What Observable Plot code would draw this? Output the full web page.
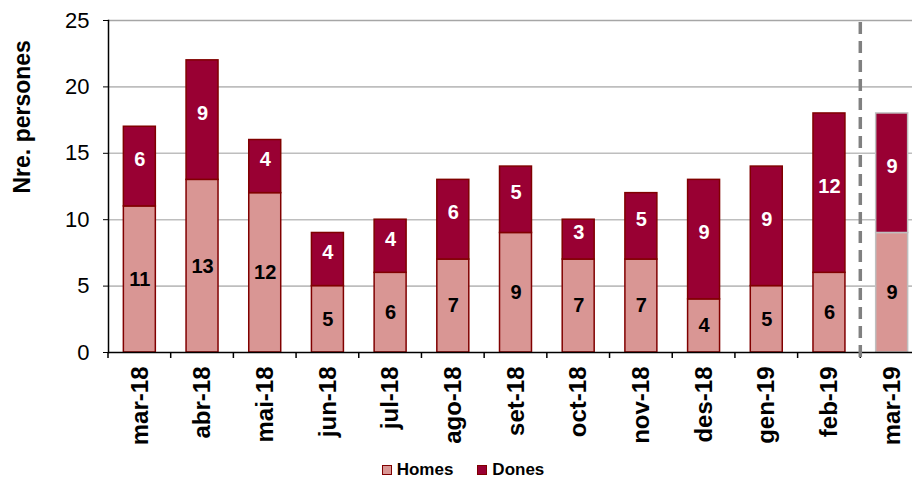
<!DOCTYPE html>
<html>
<head>
<meta charset="utf-8">
<script src="https://cdn.jsdelivr.net/npm/d3@7"></script>
<script src="https://cdn.jsdelivr.net/npm/@observablehq/plot@0.6"></script>
<style>
  html, body { margin: 0; padding: 0; background: #fff; overflow: hidden; width: 912px; height: 479px; }
  #chart svg { display: block; }
  .legend { height: 27px; display: flex; justify-content: center; align-items: center; gap: 24px;
            font-family: "Liberation Sans", Arial, sans-serif; font-weight: bold; font-size: 17px; color: #000;
            padding-left: 14px; padding-top: 8px; box-sizing: border-box; }
  .legend span.item { display: flex; align-items: center; gap: 5px; }
  .legend span.sw { display: inline-block; width: 8px; height: 8px; border: 1px solid #800000; }
</style>
</head>
<body>
<div id="chart"></div>
<div class="legend" id="legend"></div>
<script>
// ---- data ----
const months = ["mar-18","abr-18","mai-18","jun-18","jul-18","ago-18","set-18","oct-18","nov-18","des-18","gen-19","feb-19","mar-19"];
const homes  = [11, 13, 12, 5, 6, 7, 9, 7, 7, 4, 5, 6, 9];
const dones  = [ 6,  9,  4, 4, 4, 6, 5, 3, 5, 9, 9, 12, 9];
const seriesNames = ["Homes", "Dones"];
const seriesColors = ["#D99694", "#990033"];
const projectedMonth = "mar-19";
const yTicks = [0, 5, 10, 15, 20, 25];
const yLabel = "Nre. persones";

// ---- tables built from the arrays ----
const homesRows = months.map((m, i) => ({month: m, series: seriesNames[0], base: 0, value: homes[i]}));
const donesRows = months.map((m, i) => ({month: m, series: seriesNames[1], base: homes[i], value: dones[i]}));
const rows = homesRows.concat(donesRows);
const fillOf = d => d.series === seriesNames[0] ? seriesColors[0] : seriesColors[1];
const strokeOf = d => d.month === projectedMonth ? "#BFBFBF" : "#800000";

const font = "'Liberation Sans', Arial, Helvetica, sans-serif";

// separators: category ticks below the axis and the dashed divider before the projected month
function separators(index, scales) {
  const xs = scales.x, ys = scales.y;
  const step = xs(months[1]) - xs(months[0]);
  const bw = typeof xs.bandwidth === "function" ? xs.bandwidth() : step * 0.51;
  const gap = (step - bw) / 2;
  const y0 = ys(0);
  const g = d3.create("svg:g");
  const bounds = months.map(m => xs(m) - gap).concat([xs(months[months.length - 1]) + bw + gap]);
  g.selectAll("line.t").data(bounds).join("line")
    .attr("x1", d => d).attr("x2", d => d)
    .attr("y1", y0).attr("y2", y0 + 6)
    .attr("stroke", "#000").attr("stroke-width", 1.5);
  const xd = xs(projectedMonth) - gap;
  g.append("line")
    .attr("x1", xd).attr("x2", xd)
    .attr("y1", ys(yTicks[yTicks.length - 1]) + 2).attr("y2", y0 + 6)
    .attr("stroke", "#808080").attr("stroke-width", 3.5)
    .attr("stroke-dasharray", "12,7");
  return g.node();
}

const chart = Plot.plot({
  width: 912,
  height: 452,
  marginLeft: 108,
  marginRight: 0,
  marginTop: 20,
  marginBottom: 100,
  style: {fontFamily: font, background: "#fff", color: "#000", overflow: "visible"},
  x: {domain: months, range: [108, 923], paddingInner: 0.49, paddingOuter: 0.245, round: false, label: null},
  y: {domain: [0, 25], label: null},
  marks: [
    Plot.ruleY(yTicks.filter(t => t > 0 && t < 25), {stroke: "#BEBEBE", strokeWidth: 1.6}),
    Plot.ruleY([25], {stroke: "#A6A6A6", strokeWidth: 1.6}),
    Plot.barY(rows, {x: "month", y1: "base", y2: d => d.base + d.value, fill: fillOf, stroke: strokeOf, strokeWidth: 1.5}),
    Plot.text(homesRows, {x: "month", y: d => d.base + d.value / 2, text: d => String(d.value),
      fill: "#000", fontWeight: "bold", fontSize: 20}),
    Plot.text(donesRows, {x: "month", y: d => d.base + d.value / 2, text: d => String(d.value),
      fill: "#fff", fontWeight: "bold", fontSize: 20, dy: -7}),
    Plot.axisY({ticks: yTicks, tickSize: 5, tickPadding: 14, fontSize: 22, label: null, stroke: "#000"}),
    Plot.axisX({tickSize: 0, tickRotate: -90, tickPadding: 14, fontSize: 24, fontWeight: "bold", label: null}),
    Plot.ruleY([0], {stroke: "#000", strokeWidth: 1.5}),
    Plot.frame({anchor: "left", stroke: "#000", strokeWidth: 1.5}),
    Plot.text([yLabel], {frameAnchor: "left", text: d => d, rotate: -90, dx: -86, dy: 7,
      fontWeight: "bold", fontSize: 23, fill: "#000"}),
    separators
  ]
});
document.getElementById("chart").appendChild(chart);

// legend
const legend = document.getElementById("legend");
seriesNames.forEach((name, i) => {
  const item = document.createElement("span");
  item.className = "item";
  const sw = document.createElement("span");
  sw.className = "sw";
  sw.style.background = seriesColors[i];
  item.appendChild(sw);
  item.appendChild(document.createTextNode(name));
  legend.appendChild(item);
});
</script>
</body>
</html>
